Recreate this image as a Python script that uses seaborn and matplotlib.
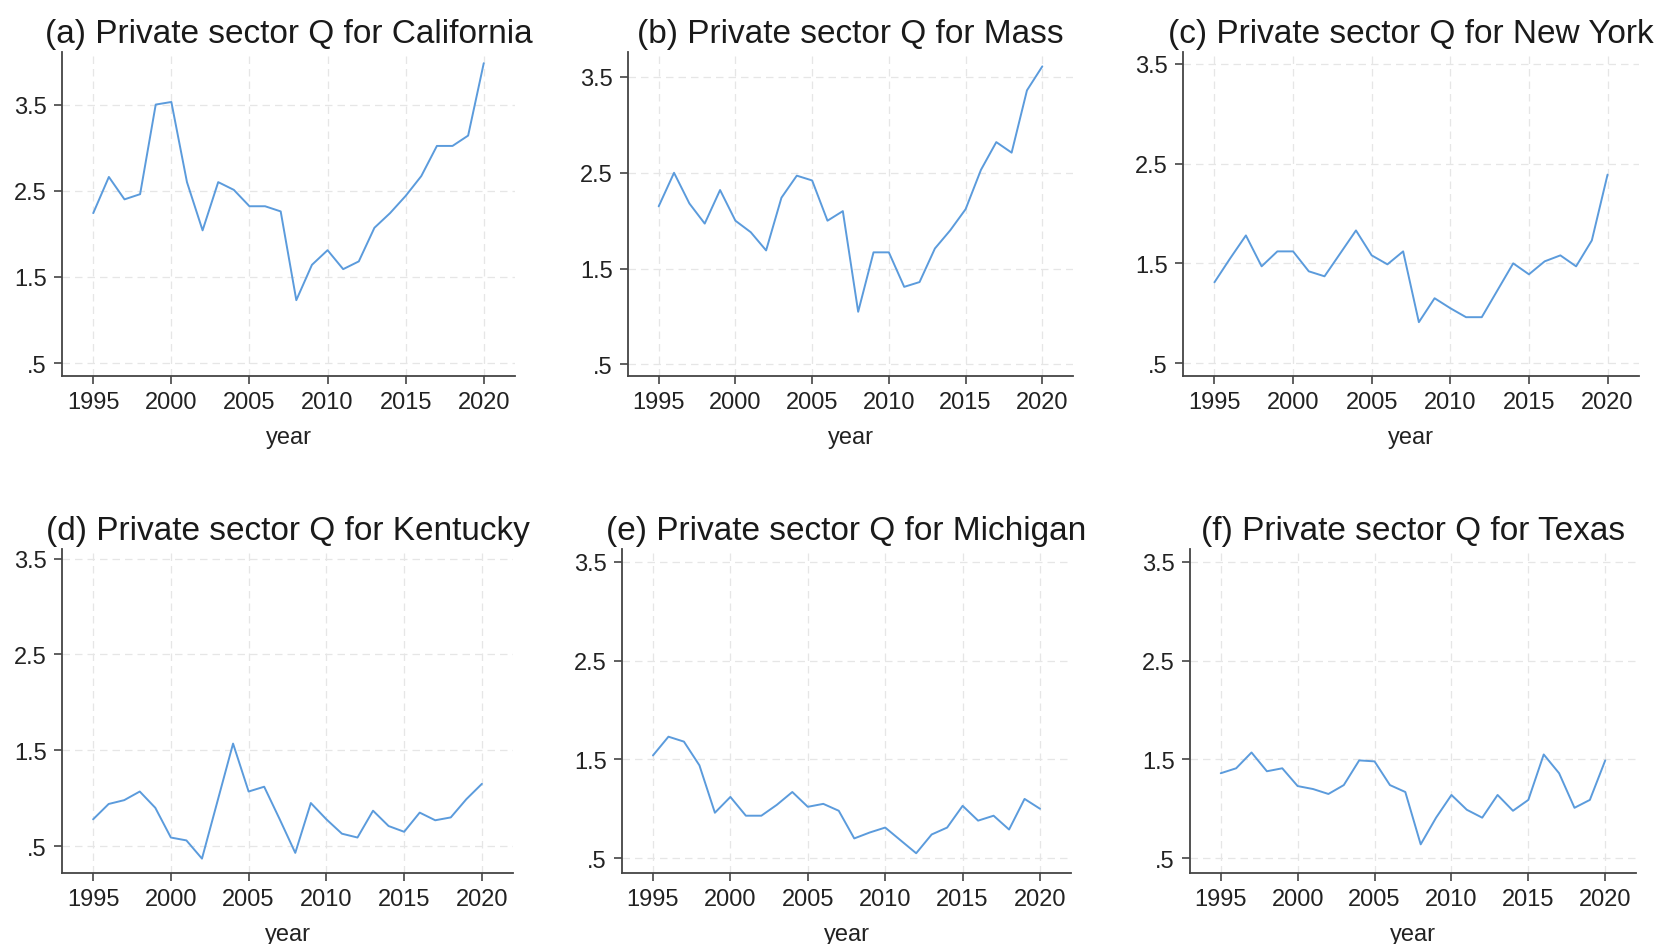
import numpy as np
import pandas as pd
import seaborn as sns
import matplotlib.pyplot as plt

years = list(range(1995, 2021))

california = [2.24, 2.66, 2.40, 2.46, 3.50, 3.53, 2.60, 2.04, 2.60, 2.51,
              2.32, 2.32, 2.26, 1.23, 1.64, 1.81, 1.59, 1.68, 2.07, 2.24,
              2.44, 2.67, 3.02, 3.02, 3.14, 3.98]
mass = [2.15, 2.50, 2.18, 1.97, 2.32, 2.00, 1.88, 1.69, 2.24, 2.47,
        2.42, 2.00, 2.10, 1.05, 1.67, 1.67, 1.31, 1.36, 1.71, 1.90,
        2.12, 2.53, 2.82, 2.71, 3.36, 3.61]
new_york = [1.31, 1.55, 1.78, 1.47, 1.62, 1.62, 1.42, 1.37, 1.60, 1.83,
            1.58, 1.49, 1.62, 0.91, 1.15, 1.05, 0.96, 0.96, 1.23, 1.50,
            1.39, 1.52, 1.58, 1.47, 1.73, 2.39]
kentucky = [0.78, 0.94, 0.98, 1.07, 0.90, 0.59, 0.56, 0.37, 0.97, 1.57,
            1.07, 1.12, 0.78, 0.43, 0.95, 0.78, 0.63, 0.59, 0.87, 0.71,
            0.65, 0.85, 0.77, 0.80, 0.99, 1.15]
michigan = [1.54, 1.73, 1.68, 1.44, 0.96, 1.12, 0.93, 0.93, 1.04, 1.17,
            1.02, 1.05, 0.98, 0.70, 0.76, 0.81, 0.68, 0.55, 0.74, 0.81,
            1.03, 0.88, 0.93, 0.79, 1.10, 1.00]
texas = [1.36, 1.41, 1.57, 1.38, 1.41, 1.23, 1.20, 1.15, 1.24, 1.49,
         1.48, 1.24, 1.17, 0.64, 0.91, 1.14, 0.99, 0.91, 1.14, 0.98,
         1.09, 1.55, 1.36, 1.01, 1.09, 1.49]

titles = ['(a) Private sector Q for California', '(b) Private sector Q for Mass',
          '(c) Private sector Q for New York', '(d) Private sector Q for Kentucky',
          '(e) Private sector Q for Michigan', '(f) Private sector Q for Texas']
series = [california, mass, new_york, kentucky, michigan, texas]

yticks = [0.5, 1.5, 2.5, 3.5]
ytick_labels = ['.5', '1.5', '2.5', '3.5']
xticks = [1995, 2000, 2005, 2010, 2015, 2020]

sns.set_style('white')
plt.rcParams['font.family'] = ['Liberation Sans', 'DejaVu Sans']

W, H = 1674, 945
fig = plt.figure(figsize=(W / 100, H / 100), dpi=100)

# axes boxes in pixels: left, right, top, bottom
boxes = [(62, 515, 53, 377), (628, 1073, 53, 377), (1183, 1639, 53, 377),
         (62, 513, 550, 874), (622, 1071, 550, 874), (1190, 1636, 550, 874)]
ylims = [(0.35, 4.11), (0.38, 3.76), (0.37, 3.62),
         (0.22, 3.60), (0.35, 3.63), (0.35, 3.63)]

for i in range(6):
    l, r, t, b = boxes[i]
    ax = fig.add_axes([l / W, 1 - b / H, (r - l) / W, (b - t) / H])
    df = pd.DataFrame({'year': years, 'q': series[i]})
    sns.lineplot(data=df, x='year', y='q', ax=ax, color='#5b9bdc', linewidth=1.4)

    ax.set_xlim(1993, 2022)
    ax.set_ylim(*ylims[i])
    ax.set_xticks(xticks)
    ax.set_yticks(yticks)
    ax.set_yticklabels(ytick_labels)
    ax.grid(True, color='#e6e6e6', linestyle=(0, (6, 4)), linewidth=0.9)
    ax.tick_params(axis='both', labelsize=17, colors='#444444', labelcolor='#222222',
                   length=6, width=1.2, direction='out', left=True, bottom=True, pad=5)
    for s in ['top', 'right']:
        ax.spines[s].set_visible(False)
    for s in ['left', 'bottom']:
        ax.spines[s].set_color('#444444')
        ax.spines[s].set_linewidth(1.3)

    ax.set_xlabel('year', fontsize=17, color='#222222', labelpad=9)
    ax.set_ylabel('')
    ax.set_title(titles[i], fontsize=24, color='#1a1a1a', pad=7)

plt.savefig('out.png', dpi=100)
